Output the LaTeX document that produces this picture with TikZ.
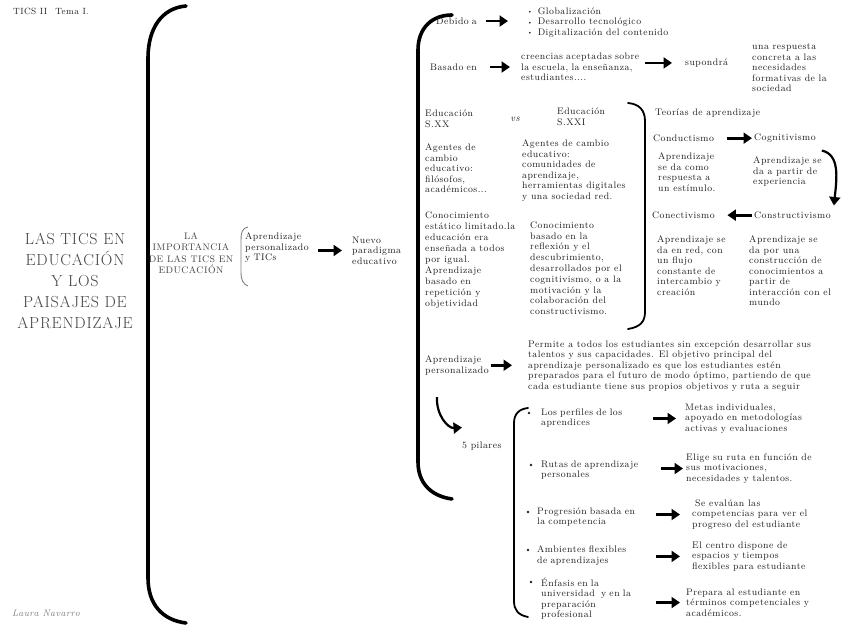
\documentclass[tikz,border=0pt]{standalone}
\usepackage{fontspec}
\setmainfont{Latin Modern Roman}[LetterSpace=5]
\usetikzlibrary{arrows.meta}
\definecolor{ink}{HTML}{222222}
\definecolor{titlegray}{HTML}{454545}
\newcommand\mybul{\raisebox{0.6pt}{\fontsize{6}{6}\selectfont\textbullet}\hspace{5pt}}
\begin{document}
\begin{tikzpicture}[x=1pt,y=-1pt,
  txt/.style={font=\fontsize{9.5}{10.5}\selectfont, align=left, inner sep=0pt, anchor=north west, text=ink},
  arr/.style={draw=black, line width=2.8pt, -{Triangle[length=8.5pt,width=11pt]}},
  curv/.style={draw=black, line width=2.2pt, -{Triangle[length=8.5pt,width=11pt]}},
  bigbrace/.style={draw=black, line width=3.6pt, line cap=round},
  midbrace/.style={draw=black, line width=1.8pt, line cap=round},
  bul/.style={circle, fill=ink, inner sep=0pt, minimum size=2.6pt}]
\fill[white] (0,0) rectangle (848,636);
\useasboundingbox (0,0) rectangle (848,636);

% header and signature
\node[txt, font=\fontsize{9}{10}\selectfont] (hdr) at (13,8) {TICS II\hspace{8pt}Tema I.};
\node[font=\fontsize{9.5}{9.5}\selectfont\itshape, text=gray, inner sep=0pt, anchor=west] (sig) at (12,613) {Laura Navarro};

% title
\node[font=\fontsize{16}{21}\selectfont, text=titlegray, align=center, inner sep=0pt] (title) at (75,281) {LAS TICS EN\\EDUCACIÓN\\Y LOS\\PAISAJES DE\\APRENDIZAJE};
\draw[bigbrace] (186,6) .. controls (162,8) and (148,28) .. (148,58) -- (148,578) .. controls (148,604) and (162,620) .. (186,623);

% importance
\node[font=\fontsize{9.5}{11.5}\selectfont, text=titlegray, align=center, inner sep=0pt] (imp) at (191,253) {LA\\IMPORTANCIA\\DE LAS TICS EN\\EDUCACIÓN};
\draw[gray, line width=0.9pt] (248,227) .. controls (242,228) and (241,233) .. (241,240) -- (241,272) .. controls (241,280) and (243,284) .. (248,286);
\node[txt, text width=73pt] (apt) at (245,232.5) {Aprendizaje\\personalizado\\y TICs};
\node[txt] (nuevo) at (352,236.5) {Nuevo\\paradigma\\educativo};
\draw[arr, shorten >=10pt] (apt.east |- nuevo.west) -- (nuevo.west);

% second brace
\draw[bigbrace] (452,15) .. controls (432,15) and (418,28) .. (418,50) -- (418,462) .. controls (418,482) and (430,496) .. (452,499);

% Debido a
\node[txt, text width=50pt] (debido) at (436,17.5) {Debido a};
\node[txt] (glob) at (527,7.5) {\mybul Globalización\\\mybul Desarrollo tecnológico\\\mybul Digitalización del contenido};
\draw[arr, shorten >=19pt] (debido.east) -- (debido.east -| glob.west);

% Basado en
\node[txt, text width=60pt] (basado) at (430,63.5) {Basado en};
\node[txt, text width=124pt] (cre) at (521,53) {creencias aceptadas sobre\\la escuela, la enseñanza,\\estudiantes....};
\draw[arr, shorten >=11pt] (basado.east) -- (basado.east -| cre.west);
\node[txt] (sup) at (685,58.5) {supondrá};
\draw[arr, shorten >=13pt] (cre.east |- sup.west) -- (sup.west);
\node[txt] (resp) at (752,43.5) {una respuesta\\concreta a las\\necesidades\\formativas de la\\sociedad};

% Educacion XX vs XXI
\node[txt, font=\fontsize{9.5}{11}\selectfont] (edu1) at (425,109.5) {Educación\\S.XX};
\node[font=\fontsize{10}{10}\selectfont\itshape, inner sep=0pt, text=ink] (vs) at (515,119) {vs};
\node[txt, font=\fontsize{9.5}{11}\selectfont] (edu2) at (557,107.5) {Educación\\S.XXI};
\node[txt] (ag1) at (425,143.5) {Agentes de\\cambio\\educativo:\\filósofos,\\académicos...};
\node[txt] (ag2) at (522,139.5) {Agentes de cambio\\educativo:\\comunidades de\\aprendizaje,\\herramientas digitales\\y una sociedad red.};
\node[txt, font=\fontsize{9.5}{11}\selectfont] (con1) at (425,211.5) {Conocimiento\\estático limitado.la\\educación era\\enseñada a todos\\por igual.\\Aprendizaje\\basado en\\repetición y\\objetividad};
\node[txt, font=\fontsize{9.5}{10.8}\selectfont] (con2) at (530,221.5) {Conocimiento\\basado en la\\reflexión y el\\descubrimiento,\\desarrollados por el\\cognitivismo, o a la\\motivación y la\\colaboración del\\constructivismo.};
\draw[midbrace] (628,103) .. controls (639,104) and (645,110) .. (645,121) -- (645,312) .. controls (645,322) and (640,327) .. (628,329);

% Teorias
\node[txt] (teo) at (655,108.5) {Teorías de aprendizaje};
\node[txt, text width=74pt] (cond) at (653,134.5) {Conductismo};
\node[txt] (cog) at (754,133.5) {Cognitivismo};
\draw[arr, shorten >=2pt] (cond.east) -- (cond.east -| cog.west);
\node[txt] (r1) at (658,152.5) {Aprendizaje\\se da como\\respuesta a\\un estímulo.};
\node[txt] (r2) at (753,156.5) {Aprendizaje se\\da a partir de\\experiencia};
\node[txt, text width=75pt] (conec) at (652,211.5) {Conectivismo};
\node[txt] (cons) at (754,211.5) {Constructivismo};
\draw[arr, shorten <=2pt] (cons.west) -- (cons.west -| conec.east);
\draw[curv] ([shift={(6,8)}]cog.south east) .. controls +(18,4) and +(3,-28) .. ([shift={(3,-6)}]cons.north east);
\node[txt] (red1) at (657,235.5) {Aprendizaje se\\da en red, con\\un flujo\\constante de\\intercambio y\\creación};
\node[txt] (red2) at (749,235.5) {Aprendizaje se\\da por una\\construcción de\\conocimientos a\\partir de\\interacción con el\\mundo};

% Aprendizaje personalizado
\node[txt, text width=66pt] (ap) at (425,355.5) {Aprendizaje\\personalizado};
\node[txt] (par) at (528,340.5) {Permite a todos los estudiantes sin excepción desarrollar sus\\talentos y sus capacidades. El objetivo principal del\\aprendizaje personalizado es que los estudiantes estén\\preparados para el futuro de modo óptimo, partiendo de que\\cada estudiante tiene sus propios objetivos y ruta a seguir};
\draw[arr, shorten >=16pt] (ap.east) -- (ap.east -| par.west);

% 5 pilares
\node[txt] (pil) at (462,441.5) {5 pilares};
\draw[curv] ([shift={(12,22)}]ap.south west) .. controls +(-1,18) and +(-14,1) .. ([shift={(0,-14)}]pil.north west);
\draw[midbrace] (528,408) .. controls (519,409) and (514,414) .. (514,423) -- (514,601) .. controls (514,610) and (518,615) .. (528,617);

\node[bul] (b1) at (529,413) {};
\node[txt, text width=112pt] (L1) at (541,408.5) {Los perfiles de los\\aprendices};
\node[txt] (R1) at (685,403.5) {Metas individuales,\\apoyado en metodologías\\activas y evaluaciones};
\draw[arr, shorten >=9pt] (L1.east |- R1.west) -- (R1.west);

\node[bul] (b2) at (531,465) {};
\node[txt, text width=120pt] (L2) at (541,460.5) {Rutas de aprendizaje\\personales};
\node[txt] (R2) at (686,453.5) {Elige su ruta en función de\\sus motivaciones,\\necesidades y talentos.};
\draw[arr, shorten >=3pt] (L2.east |- R2.west) -- (R2.west);

\node[bul] (b3) at (528,512) {};
\node[txt, text width=119pt] (L3) at (537,507.5) {Progresión basada en\\la competencia};
\node[txt] (R3) at (692,499.5) {\hspace{3pt}Se evalúan las\\competencias para ver el\\progreso del estudiante};
\draw[arr, shorten >=12pt] (L3.east |- R3.west) -- (R3.west);

\node[bul] (b4) at (528,550) {};
\node[txt, text width=119pt] (L4) at (537,545.5) {Ambientes flexibles\\de aprendizajes};
\node[txt] (R4) at (692,541.5) {El centro dispone de\\espacios y tiempos\\flexibles para estudiante};
\draw[arr, shorten >=12pt] (L4.east |- R4.west) -- (R4.west);

\node[bul] (b5) at (531,582) {};
\node[txt, text width=115pt] (L5) at (541,577.5) {Énfasis en la\\universidad\ \ y en la\\preparación\\profesional};
\node[txt] (R5) at (686,588.5) {Prepara al estudiante en\\términos competenciales y\\académicos.};
\draw[arr, shorten >=6pt] (L5.east |- R5.west) -- (R5.west);
\end{tikzpicture}
\end{document}
